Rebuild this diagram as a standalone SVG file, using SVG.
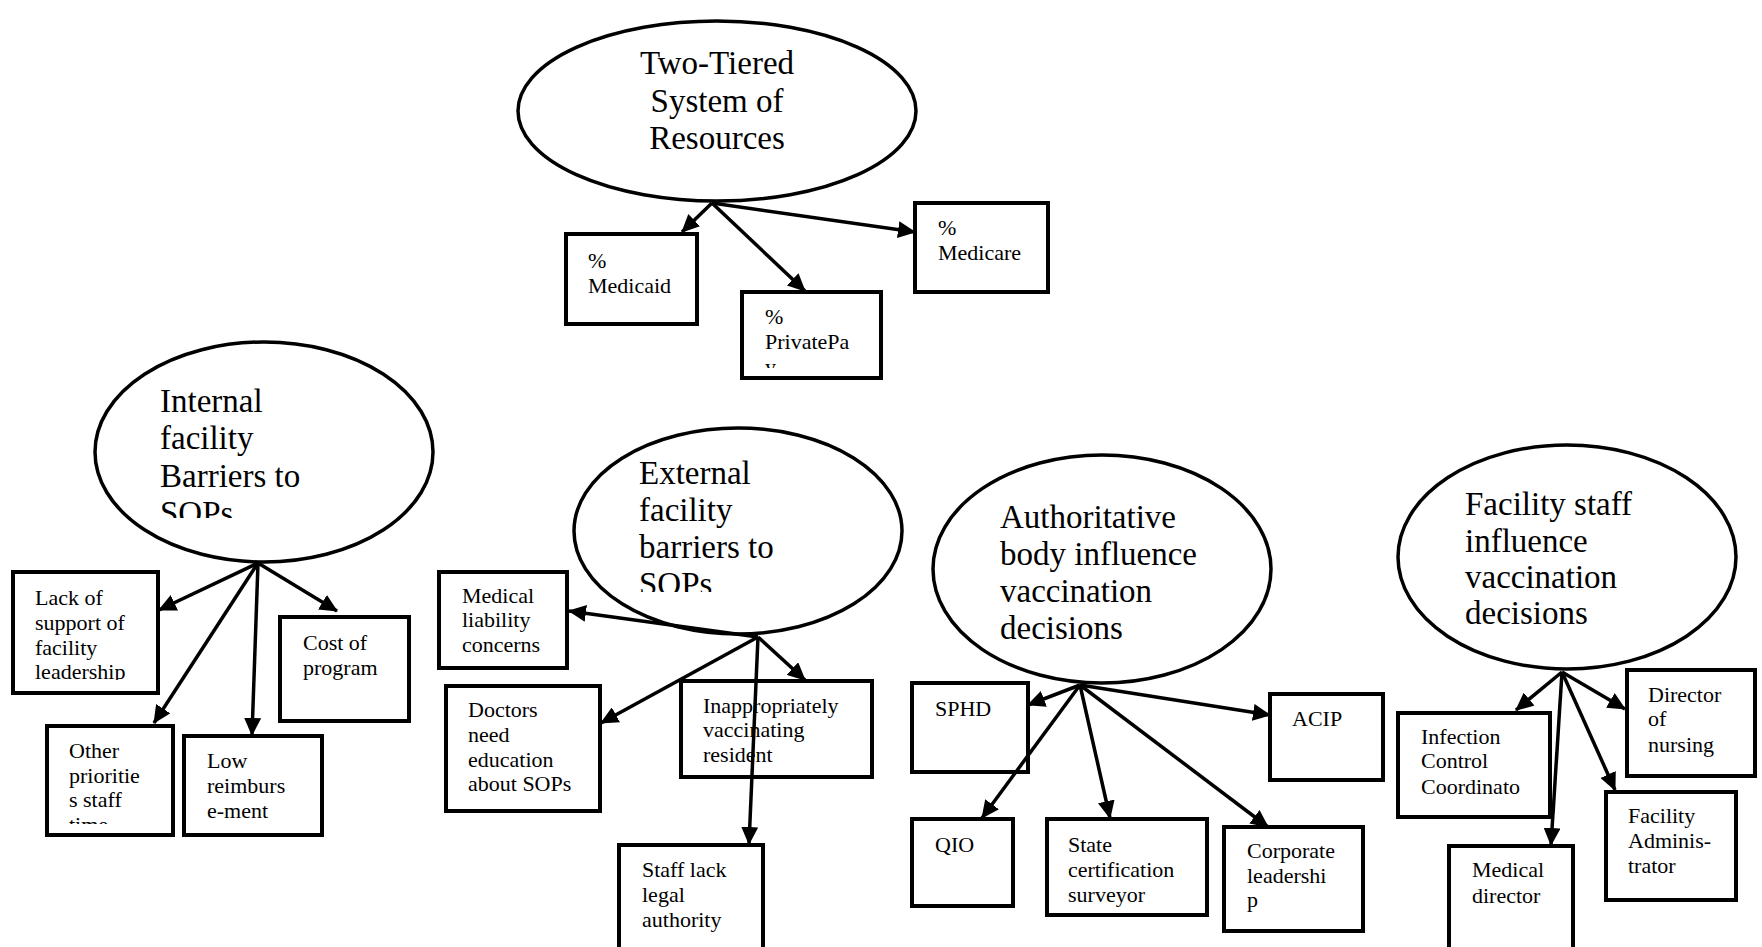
<svg xmlns="http://www.w3.org/2000/svg" width="1762" height="947" viewBox="0 0 1762 947">
  <style>
    .ell { fill: #fff; stroke: #000; stroke-width: 3.5; }
    .box { fill: #fff; stroke: #000; stroke-width: 4; }
    .et { font-family: "Liberation Serif", "Times New Roman", serif; font-size: 33px; fill: #000; }
    .bt { font-family: "Liberation Serif", "Times New Roman", serif; font-size: 22px; fill: #000; }
    .arr { stroke: #000; stroke-width: 3.5; fill: none; marker-end: url(#ah); }
  </style>
  <defs>
    <marker id="ah" markerUnits="userSpaceOnUse" markerWidth="18" markerHeight="17" refX="17" refY="8.5" orient="auto">
      <path d="M0,0 L18,8.5 L0,17 z" fill="#000"/>
    </marker>
    <!-- text frames that cut off overflowing lines -->
    <clipPath id="clipInternal"><rect x="100" y="350" width="320" height="168"/></clipPath>
    <clipPath id="clipExternal"><rect x="580" y="440" width="310" height="152"/></clipPath>
    <clipPath id="clipLack"><rect x="15" y="574" width="141" height="106"/></clipPath>
    <clipPath id="clipOther"><rect x="49" y="728" width="122" height="96"/></clipPath>
    <clipPath id="clipPrivate"><rect x="744" y="294" width="135" height="74"/></clipPath>
  </defs>
  <rect width="1762" height="947" fill="#fff"/>

  <!-- Two-tiered system -->
  <g id="two-tiered">
    <ellipse class="ell" cx="717" cy="111" rx="199" ry="90"/>
    <text class="et" text-anchor="middle"><tspan x="717" y="74">Two-Tiered</tspan><tspan x="717" y="112">System of</tspan><tspan x="717" y="149">Resources</tspan></text>
  </g>
  <g id="medicaid">
    <rect class="box" x="566" y="234" width="131" height="90"/>
    <text class="bt"><tspan x="588" y="268">%</tspan><tspan x="588" y="293">Medicaid</tspan></text>
  </g>
  <g id="privatepay">
    <rect class="box" x="742" y="292" width="139" height="86"/>
    <text class="bt" clip-path="url(#clipPrivate)"><tspan x="765" y="324">%</tspan><tspan x="765" y="349">PrivatePa</tspan><tspan x="765" y="374">y</tspan></text>
  </g>
  <g id="medicare">
    <rect class="box" x="915" y="203" width="133" height="89"/>
    <text class="bt"><tspan x="938" y="235">%</tspan><tspan x="938" y="260">Medicare</tspan></text>
  </g>

  <!-- Internal facility barriers -->
  <g id="internal">
    <ellipse class="ell" cx="264" cy="452" rx="169" ry="110"/>
    <text class="et" clip-path="url(#clipInternal)"><tspan x="160" y="412">Internal</tspan><tspan x="160" y="449">facility</tspan><tspan x="160" y="487">Barriers to</tspan><tspan x="160" y="524">SOPs</tspan></text>
  </g>
  <g id="lack-support">
    <rect class="box" x="13" y="572" width="145" height="121"/>
    <text class="bt" clip-path="url(#clipLack)"><tspan x="35" y="605">Lack of</tspan><tspan x="35" y="630">support of</tspan><tspan x="35" y="655">facility</tspan><tspan x="35" y="679">leadership</tspan></text>
  </g>
  <g id="other-priorities">
    <rect class="box" x="47" y="726" width="126" height="109"/>
    <text class="bt" clip-path="url(#clipOther)"><tspan x="69" y="758">Other</tspan><tspan x="69" y="783">prioritie</tspan><tspan x="69" y="807">s staff</tspan><tspan x="69" y="832">time</tspan></text>
  </g>
  <g id="low-reimbursement">
    <rect class="box" x="184" y="736" width="138" height="99"/>
    <text class="bt"><tspan x="207" y="768">Low</tspan><tspan x="207" y="793">reimburs</tspan><tspan x="207" y="818">e-ment</tspan></text>
  </g>
  <g id="cost-program">
    <rect class="box" x="280" y="617" width="129" height="104"/>
    <text class="bt"><tspan x="303" y="650">Cost of</tspan><tspan x="303" y="675">program</tspan></text>
  </g>

  <!-- External facility barriers -->
  <g id="external">
    <ellipse class="ell" cx="738" cy="531" rx="164" ry="103"/>
    <text class="et" clip-path="url(#clipExternal)"><tspan x="639" y="484">External</tspan><tspan x="639" y="521">facility</tspan><tspan x="639" y="558">barriers to</tspan><tspan x="639" y="595">SOPs</tspan></text>
  </g>
  <g id="medical-liability">
    <rect class="box" x="439" y="572" width="128" height="96"/>
    <text class="bt"><tspan x="462" y="603">Medical</tspan><tspan x="462" y="627">liability</tspan><tspan x="462" y="652">concerns</tspan></text>
  </g>
  <g id="doctors-education">
    <rect class="box" x="446" y="686" width="154" height="125"/>
    <text class="bt"><tspan x="468" y="717">Doctors</tspan><tspan x="468" y="742">need</tspan><tspan x="468" y="767">education</tspan><tspan x="468" y="791">about SOPs</tspan></text>
  </g>
  <g id="inappropriately">
    <rect class="box" x="681" y="681" width="191" height="96"/>
    <text class="bt"><tspan x="703" y="713">Inappropriately</tspan><tspan x="703" y="737">vaccinating</tspan><tspan x="703" y="762">resident</tspan></text>
  </g>
  <g id="staff-authority">
    <rect class="box" x="619" y="845" width="144" height="110"/>
    <text class="bt"><tspan x="642" y="877">Staff lack</tspan><tspan x="642" y="902">legal</tspan><tspan x="642" y="927">authority</tspan></text>
  </g>

  <!-- Authoritative body influence -->
  <g id="authoritative">
    <ellipse class="ell" cx="1102" cy="569" rx="169" ry="114"/>
    <text class="et"><tspan x="1000" y="528">Authoritative</tspan><tspan x="1000" y="565">body influence</tspan><tspan x="1000" y="602">vaccination</tspan><tspan x="1000" y="639">decisions</tspan></text>
  </g>
  <g id="sphd">
    <rect class="box" x="912" y="683" width="116" height="89"/>
    <text class="bt" x="935" y="716">SPHD</text>
  </g>
  <g id="acip">
    <rect class="box" x="1270" y="694" width="113" height="86"/>
    <text class="bt" x="1292" y="726">ACIP</text>
  </g>
  <g id="qio">
    <rect class="box" x="912" y="819" width="101" height="87"/>
    <text class="bt" x="935" y="852">QIO</text>
  </g>
  <g id="state-surveyor">
    <rect class="box" x="1047" y="819" width="160" height="96"/>
    <text class="bt"><tspan x="1068" y="852">State</tspan><tspan x="1068" y="877">certification</tspan><tspan x="1068" y="902">surveyor</tspan></text>
  </g>
  <g id="corporate">
    <rect class="box" x="1224" y="827" width="139" height="104"/>
    <text class="bt"><tspan x="1247" y="858">Corporate</tspan><tspan x="1247" y="883">leadershi</tspan><tspan x="1247" y="907">p</tspan></text>
  </g>

  <!-- Facility staff influence -->
  <g id="facility-staff">
    <ellipse class="ell" cx="1567" cy="557" rx="169" ry="112"/>
    <text class="et"><tspan x="1465" y="515">Facility staff</tspan><tspan x="1465" y="552">influence</tspan><tspan x="1465" y="588">vaccination</tspan><tspan x="1465" y="624">decisions</tspan></text>
  </g>
  <g id="infection-control">
    <rect class="box" x="1398" y="713" width="152" height="104"/>
    <text class="bt"><tspan x="1421" y="744">Infection</tspan><tspan x="1421" y="768">Control</tspan><tspan x="1421" y="794">Coordinato</tspan></text>
  </g>
  <g id="director-nursing">
    <rect class="box" x="1627" y="670" width="128" height="106"/>
    <text class="bt"><tspan x="1648" y="702">Director</tspan><tspan x="1648" y="726">of</tspan><tspan x="1648" y="752">nursing</tspan></text>
  </g>
  <g id="medical-director">
    <rect class="box" x="1449" y="846" width="124" height="110"/>
    <text class="bt"><tspan x="1472" y="877">Medical</tspan><tspan x="1472" y="903">director</tspan></text>
  </g>
  <g id="facility-administrator">
    <rect class="box" x="1606" y="792" width="130" height="108"/>
    <text class="bt"><tspan x="1628" y="823">Facility</tspan><tspan x="1628" y="848">Adminis-</tspan><tspan x="1628" y="873">trator</tspan></text>
  </g>

  <!-- connectors -->
  <g id="connectors">
    <line class="arr" x1="712" y1="203" x2="682" y2="232"/>
    <line class="arr" x1="712" y1="203" x2="805" y2="291"/>
    <line class="arr" x1="712" y1="203" x2="915" y2="232"/>

    <line class="arr" x1="258" y1="563" x2="159" y2="610"/>
    <line class="arr" x1="258" y1="563" x2="154" y2="723"/>
    <line class="arr" x1="258" y1="563" x2="252" y2="735"/>
    <line class="arr" x1="258" y1="563" x2="337" y2="611"/>

    <line class="arr" x1="758" y1="637" x2="569" y2="611"/>
    <line class="arr" x1="758" y1="637" x2="601" y2="723"/>
    <line class="arr" x1="758" y1="637" x2="805" y2="680"/>
    <line class="arr" x1="758" y1="637" x2="749" y2="844"/>

    <line class="arr" x1="1080" y1="685" x2="1028" y2="705"/>
    <line class="arr" x1="1080" y1="685" x2="982" y2="818"/>
    <line class="arr" x1="1080" y1="685" x2="1110" y2="818"/>
    <line class="arr" x1="1080" y1="685" x2="1268" y2="827"/>
    <line class="arr" x1="1080" y1="685" x2="1270" y2="715"/>

    <line class="arr" x1="1562" y1="672" x2="1516" y2="710"/>
    <line class="arr" x1="1562" y1="672" x2="1551" y2="845"/>
    <line class="arr" x1="1562" y1="672" x2="1615" y2="790"/>
    <line class="arr" x1="1562" y1="672" x2="1625" y2="709"/>
  </g>
</svg>
